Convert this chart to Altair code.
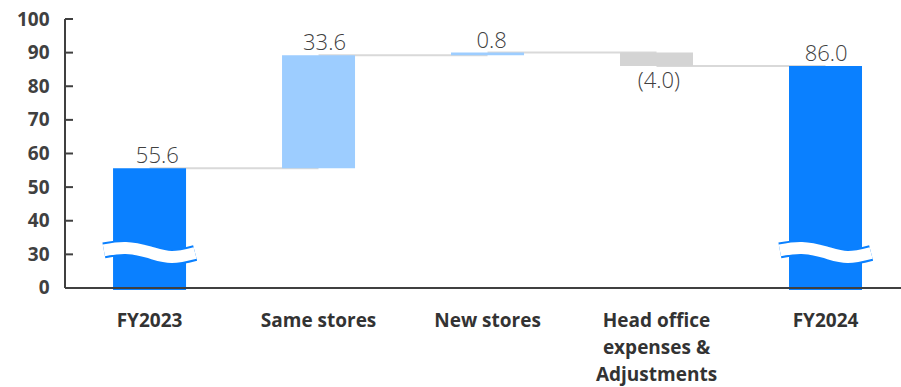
import altair as alt
import pandas as pd

# ---- data ----
categories = ["FY2023", "Same stores", "New stores",
              "Head office|expenses &|Adjustments", "FY2024"]
changes = [55.6, 33.6, 0.8, -4.0, 86.0]
kinds = ["total", "up", "up", "down", "total"]
value_labels = ["55.6", "33.6", "0.8", "(4.0)", "86.0"]
tick_values = [20, 30, 40, 50, 60, 70, 80, 90, 100]   # 20 is shown as "0" (broken axis)
break_bars = [0, 4]
wave_dx = [-0.27, -0.14, 0.0, 0.13, 0.27]
wave_y = [31.2, 31.9, 30.6, 29.2, 30.4]

# ---- derived table ----
rows = []
level = 0.0
for i, (c, v, k, lab) in enumerate(zip(categories, changes, kinds, value_labels)):
    if k == "total":
        start, end = 0.0, v
        level = v
    else:
        start, end = level, level + v
        level = end
    rows.append(dict(cat=c, idx=i, start=start, end=end, kind=k, label=lab,
                     top=max(start, end), bottom=min(start, end)))
bars = pd.DataFrame(rows)

conn = pd.DataFrame([dict(a=categories[i], b=categories[i + 1], lvl=rows[i]["end"])
                     for i in range(len(categories) - 1)])

wave = pd.DataFrame([dict(bar=b, x=b + 0.5 + dx, y=wy)
                     for b in break_bars for dx, wy in zip(wave_dx, wave_y)])

ticks_df = pd.DataFrame({"v": tick_values[1:]})
one = pd.DataFrame({"o": [0]})

W, H = 836, 271
FONT = "Open Sans"

yscale = alt.Scale(domain=[19.4, 100], clamp=True, nice=False, zero=False)
xscale = alt.Scale(domain=categories, paddingInner=0.568, paddingOuter=0.2575, align=0.552)
yaxis = alt.Axis(title=None, values=tick_values, domain=False, ticks=False,
                 tickSize=0, grid=False, labelFont=FONT, labelFontSize=19,
                 labelFontWeight="bold", labelColor="#404040", labelPadding=16,
                 labelExpr="datum.value == 20 ? '0' : datum.label")

color_scale = alt.Scale(domain=["total", "up", "down"],
                        range=["#0a80ff", "#9dcdff", "#d4d4d4"])

xa = alt.X("cat:N", scale=xscale, sort=categories, axis=None)

connectors = alt.Chart(conn).mark_rule(color="#d9d9d9", strokeWidth=2).encode(
    x=alt.X("a:N", scale=xscale, sort=categories,
            axis=alt.Axis(title=None, domain=False, ticks=False, labelAngle=0,
                          labelFont=FONT, labelFontSize=19, labelFontWeight="bold",
                          labelColor="#333333", labelPadding=21, labelLineHeight=27,
                          labelExpr="split(datum.label, '|')")),
    x2="b:N",
    y=alt.Y("lvl:Q", scale=yscale, axis=yaxis),
)

bar_layer = alt.Chart(bars).mark_bar(size=73).encode(
    x=xa,
    y=alt.Y("end:Q", scale=yscale, axis=yaxis),
    y2="start:Q",
    color=alt.Color("kind:N", scale=color_scale, legend=None),
)

pos_text = alt.Chart(bars).transform_filter("datum.kind != 'down'").mark_text(
    font=FONT, fontSize=22, fontWeight=300, color="#404040", baseline="alphabetic", dy=-5
).encode(x=xa, y=alt.Y("top:Q", scale=yscale, axis=yaxis), text="label:N")

neg_text = alt.Chart(bars).transform_filter("datum.kind == 'down'").mark_text(
    font=FONT, fontSize=22, fontWeight=300, color="#404040", baseline="top", dy=5
).encode(x=xa, y=alt.Y("bottom:Q", scale=yscale, axis=yaxis), text="label:N")

wx = alt.X("x:Q", scale=alt.Scale(domain=[0, W / 169.0], nice=False, zero=False), axis=None)
wave_blue = alt.Chart(wave).mark_line(color="#0a80ff", strokeWidth=16, interpolate="natural",
                                      strokeCap="butt").encode(
    x=wx, y=alt.Y("y:Q", scale=yscale, axis=yaxis), detail="bar:N")
wave_white = alt.Chart(wave).mark_line(color="white", strokeWidth=12, interpolate="natural",
                                       strokeCap="butt").encode(
    x=wx, y=alt.Y("y:Q", scale=yscale, axis=yaxis), detail="bar:N")

y_axis_line = alt.Chart(one).mark_rule(color="#404040", strokeWidth=2).encode(
    x=alt.value(0), y=alt.datum(20, scale=yscale, axis=yaxis), y2=alt.datum(100))
x_axis_line = alt.Chart(one).mark_rule(color="#404040", strokeWidth=2).encode(
    x=alt.value(0), x2=alt.value(W), y=alt.datum(20, scale=yscale, axis=yaxis))
tick_marks = alt.Chart(ticks_df).mark_rule(color="#404040", strokeWidth=2).encode(
    x=alt.value(0), x2=alt.value(8), y=alt.Y("v:Q", scale=yscale, axis=yaxis))

chart = alt.layer(
    connectors, bar_layer, pos_text, neg_text, wave_blue, wave_white,
    y_axis_line, x_axis_line, tick_marks
).resolve_scale(x="independent").properties(
    width=W, height=H,
    autosize=alt.AutoSizeParams(type="none"),
    padding={"left": 65, "top": 19, "right": 0, "bottom": 97},
).configure_view(stroke=None)

chart.save("out.html", embed_options={"renderer": "svg", "actions": False})
